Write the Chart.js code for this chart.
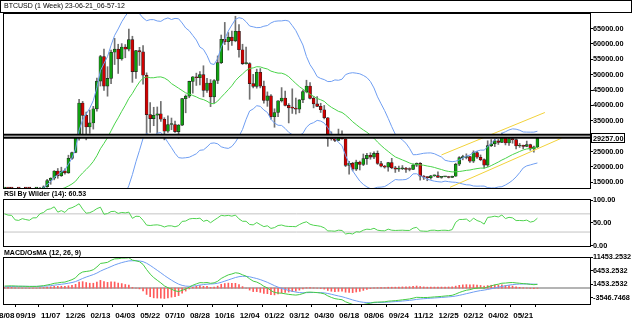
<!DOCTYPE html>
<html>
<head>
<meta charset="utf-8">
<title>BTCUSD weekly</title>
<script src="https://cdn.jsdelivr.net/npm/chart.js@4.4.0/dist/chart.umd.min.js"></script>
<style>
  html, body { margin: 0; padding: 0; background: #fff; }
  #wrap { position: relative; width: 632px; height: 336px; overflow: hidden; }
  #wrap canvas { position: absolute; left: 0; }
</style>
</head>
<body>
<div id="wrap">
  <canvas id="priceChart" width="632" height="190" style="top:0"></canvas>
  <canvas id="rsiChart" width="632" height="58" style="top:190px"></canvas>
  <canvas id="macdChart" width="632" height="88" style="top:248px"></canvas>
</div>
<script>
// weekly closes before the first drawn bar (indicator warm-up only)
const warmupCloses = [
  8100, 8300, 7950, 8650, 9250, 8800, 8480, 7280, 7750, 7550,
  7250, 7150, 7250, 7350, 8000, 8900, 8450, 9350, 9800, 10350,
  9700, 8700, 9100, 5600, 6200, 6400, 6800, 6900, 7100, 7500,
  8900, 9800, 9650, 9170, 9430, 9650, 9470, 9300, 9150, 9070,
  9280, 9170, 9550, 11350, 11600
];

// BTCUSD weekly bars, 08/08/2020 .. 06/18/2023
const opens = [
  11600, 11780, 11530, 11480, 10510, 10390, 10930, 10730, 10570, 11300,
  11320, 12930, 13560, 15570, 16300, 18680, 17150, 18650, 18060, 22800,
  24700, 29370, 40780, 36770, 33000, 34300, 38900, 47900, 55900, 46300,
  48800, 57300, 58300, 55100, 59000, 58300, 61400, 51000, 57800, 57400,
  49800, 37000, 35700, 36800, 37300, 35500, 31600, 33800, 33800, 31500,
  33600, 42200, 43000, 47800, 49300, 49000, 50000, 44900, 47300, 42800,
  48100, 53900, 61500, 60700, 62200, 61000, 64100, 58100, 53600, 53600,
  47100, 46200, 50800, 46300, 41600, 43100, 36300, 37700, 41500, 42400,
  40000, 39200, 39100, 38800, 41800, 44500, 46300, 42300, 40500, 39700,
  38600, 36000, 29300, 29200, 28600, 29700, 29100, 20500, 21200, 19300,
  21600, 20800, 22700, 23800, 23200, 24400, 21100, 20200, 19950, 21400,
  19700, 19300, 19400, 19500, 19180, 19160, 20600, 21150, 17000, 16700,
  16500, 17100, 17150, 16600, 16800, 16840, 16550, 16950, 20880, 23000,
  23050, 23350, 21850, 24650, 23150, 22350, 20600, 26900, 27500, 28450,
  27950, 30300, 27800, 29250, 28850, 26800, 26900, 26700, 27250, 25850, 26500
];
const highs = [
  12050, 12480, 11800, 12090, 10600, 11100, 11180, 10950, 11400, 11720,
  13350, 13850, 15950, 16480, 18800, 19480, 19900, 19400, 23800, 24800,
  29600, 41950, 41300, 37850, 38500, 39700, 48900, 56300, 58350, 52600,
  58000, 61800, 59900, 60100, 59800, 64850, 62500, 57900, 58900, 59500,
  50600, 40900, 39400, 39500, 41300, 36000, 36600, 35900, 34900, 33800,
  42300, 43400, 47900, 49400, 50500, 51000, 52900, 48800, 48400, 48400,
  56100, 62900, 67000, 63700, 64200, 69000, 66300, 59900, 59000, 53900,
  50100, 51800, 52000, 47900, 44400, 43500, 38900, 41600, 45800, 44700,
  40600, 45400, 42400, 41900, 45000, 48200, 47400, 42900, 42900, 40700,
  40000, 36100, 31400, 30500, 32300, 31700, 29200, 21800, 21500, 22200,
  21900, 24200, 24400, 24600, 24900, 25200, 21800, 20500, 21500, 22800,
  20200, 20300, 20450, 19900, 19700, 21000, 21300, 21400, 17200, 16800,
  17300, 17400, 18400, 16900, 16860, 16950, 16980, 21200, 23350, 23800,
  24250, 23450, 25250, 25100, 23900, 22600, 28500, 28900, 29100, 28950,
  31000, 30500, 30000, 29800, 29150, 27650, 27100, 28400, 27400, 26800, 29400
];
const lows = [
  11150, 11380, 11150, 9980, 9900, 10270, 10140, 10400, 10500, 11200,
  11300, 12900, 13300, 14350, 15800, 16300, 16900, 17600, 17900, 22400,
  24600, 28700, 30400, 28800, 30900, 32300, 38100, 46300, 44900, 43000,
  47100, 53300, 50400, 54700, 55500, 57700, 47500, 48800, 53000, 46900,
  30000, 31200, 33400, 31000, 34800, 28800, 31200, 32100, 31200, 29300,
  33400, 37600, 42500, 44000, 46500, 46700, 42800, 44200, 39600, 40800,
  47100, 53600, 59800, 58000, 59500, 60700, 55700, 53300, 53400, 42000,
  45700, 45600, 45700, 40700, 39700, 35500, 32900, 36300, 41100, 39800,
  34300, 37400, 37200, 37600, 40900, 44100, 42100, 39200, 39600, 37700,
  35600, 26700, 28700, 28200, 28500, 29000, 20100, 17600, 18700, 18800,
  19000, 20400, 20800, 22500, 22700, 20800, 20000, 19600, 18600, 19400,
  18200, 18500, 19100, 18200, 18700, 19100, 20100, 15700, 15900, 15500,
  16000, 16900, 16550, 16300, 16780, 16400, 16500, 16900, 20400, 22300,
  22600, 21450, 21400, 22800, 22000, 19600, 20100, 26600, 26600, 27300,
  27900, 27150, 26950, 27700, 25850, 26350, 25900, 26550, 25400, 24800, 26250
];
const closes = [
  11780, 11530, 11480, 10510, 10390, 10930, 10730, 10570, 11300, 11320,
  12930, 13560, 15570, 16300, 18680, 17150, 18650, 18060, 22800, 24700,
  29370, 40780, 36770, 33000, 34300, 38900, 47900, 55900, 46300, 48800,
  57300, 58300, 55100, 59000, 58300, 61400, 51000, 57800, 57400, 49800,
  37000, 35700, 36800, 37300, 35500, 31600, 33800, 33800, 31500, 33600,
  42200, 43000, 47800, 49300, 49000, 50000, 44900, 47300, 42800, 48100,
  53900, 61500, 60700, 62200, 61000, 64100, 58100, 53600, 53600, 47100,
  46200, 50800, 46300, 41600, 43100, 36300, 37700, 41500, 42400, 40000,
  39200, 39100, 38800, 41800, 44500, 46300, 42300, 40500, 39700, 38600,
  36000, 29300, 29200, 28600, 29700, 29100, 20500, 21200, 19300, 21600,
  20800, 22700, 23800, 23200, 24400, 21100, 20200, 19950, 21400, 19700,
  19300, 19400, 19500, 19180, 19160, 20600, 21150, 17000, 16700, 16500,
  17100, 17150, 16600, 16800, 16840, 16550, 16950, 20880, 23000, 23050,
  23350, 21850, 24650, 23150, 22350, 20600, 26900, 27500, 28450, 27950,
  30300, 27800, 29250, 28850, 26800, 26900, 26700, 27250, 25850, 26500, 29257
];

// time axis labels (bar index -> date)
const tickBars = [0, 6, 13, 20, 27, 34, 41, 48, 55, 62, 69, 76, 83, 90, 97, 104, 111, 118, 125, 132, 139, 146];
const tickLabels = ['08/08', '09/19', '11/07', '12/26', '02/13', '04/03', '05/22', '07/10', '08/28', '10/16', '12/04',
  '01/22', '03/12', '04/30', '06/18', '08/06', '09/24', '11/12', '12/25', '02/12', '04/02', '05/21'];

const priceTicks = [15000, 20000, 25000, 30000, 35000, 40000, 45000, 50000, 55000, 60000, 65000];
const rsiTicks = [0, 50, 100];
const rsiLevels = [70, 30];
const macdTicks = [-3546.7468, 1453.2532, 6453.2532, 11453.2532];

// drawn objects: horizontal level and the rising channel (bar index, price)
const levelPrice = 30000;
const channelUpper = [[123.0, 23900], [152.1, 37700]];
const channelLower = [[125.4, 13370], [156.8, 29350]];

const X_MIN = -0.42, X_MAX = 164.8;
const FONT = '"Liberation Sans", Arial, sans-serif';

// ---- indicators: Bollinger(20, 2), RSI Wilder(14), MACD(12, 26, 9) ----
const allCloses = warmupCloses.concat(closes);
const off = warmupCloses.length;

const bbUpper = [], bbMiddle = [], bbLower = [];
for (let i = 0; i < closes.length; i++) {
  const k = i + off;
  const win = allCloses.slice(k - 19, k + 1);
  const mean = win.reduce((a, b) => a + b, 0) / 20;
  const sd = Math.sqrt(win.reduce((a, b) => a + (b - mean) * (b - mean), 0) / 20);
  bbMiddle.push({ x: i, y: mean });
  bbUpper.push({ x: i, y: mean + 2 * sd });
  bbLower.push({ x: i, y: mean - 2 * sd });
}

function ema(src, n) {
  const a = 2 / (n + 1);
  const out = [src[0]];
  for (let i = 1; i < src.length; i++) out.push(a * src[i] + (1 - a) * out[i - 1]);
  return out;
}
const ema12 = ema(allCloses, 12);
const ema26 = ema(allCloses, 26);
const macdAll = ema12.map((v, i) => v - ema26[i]);
const signalAll = ema(macdAll, 9);

const rsiAll = new Array(allCloses.length).fill(null);
let avgGain = 0, avgLoss = 0;
for (let i = 1; i <= 14; i++) {
  const d = allCloses[i] - allCloses[i - 1];
  avgGain += Math.max(d, 0); avgLoss += Math.max(-d, 0);
}
avgGain /= 14; avgLoss /= 14;
rsiAll[14] = 100 - 100 / (1 + avgGain / avgLoss);
for (let i = 15; i < allCloses.length; i++) {
  const d = allCloses[i] - allCloses[i - 1];
  avgGain = (avgGain * 13 + Math.max(d, 0)) / 14;
  avgLoss = (avgLoss * 13 + Math.max(-d, 0)) / 14;
  rsiAll[i] = avgLoss === 0 ? 100 : 100 - 100 / (1 + avgGain / avgLoss);
}

const rsiData = closes.map((c, i) => ({ x: i, y: rsiAll[i + off] }));
const macdData = closes.map((c, i) => ({ x: i, y: macdAll[i + off] }));
const signalData = closes.map((c, i) => ({ x: i, y: signalAll[i + off] }));
const osmaData = closes.map((c, i) => ({ x: i, y: macdAll[i + off] - signalAll[i + off] }));

// ---- shared chart pieces ----
Chart.defaults.font.family = FONT;
Chart.defaults.color = '#000';
Chart.defaults.animation = false;

function hline(y, color, width, order) {
  return { type: 'line', data: [{ x: X_MIN, y: y }, { x: X_MAX, y: y }], borderColor: color,
           borderWidth: width, pointRadius: 0, order: order };
}
function series(data, color, order) {
  return { type: 'line', data: data, borderColor: color, borderWidth: 1, pointRadius: 0, order: order };
}

function xScale(show) {
  return {
    type: 'linear', min: X_MIN, max: X_MAX, offset: false, display: show,
    grid: { display: show, drawOnChartArea: false, tickLength: 3, color: '#000' },
    border: { display: false },
    afterBuildTicks: s => { s.ticks = tickBars.map(v => ({ value: v })); },
    afterFit: s => { s.paddingLeft = 0; s.paddingRight = 0; if (show) s.height = 32; },
    ticks: { autoSkip: false, maxRotation: 0, minRotation: 0, padding: 4,
             font: { size: 8, weight: 'bold' }, color: '#000',
             callback: (v, i) => tickLabels[i] }
  };
}

function yScale(min, max, ticks, digits) {
  return {
    type: 'linear', position: 'right', min: min, max: max,
    grid: { drawOnChartArea: false, tickLength: 3, color: '#000' },
    border: { display: true, color: '#000' },
    afterBuildTicks: s => { s.ticks = ticks.map(v => ({ value: v })); },
    afterFit: s => { s.width = 42; s.paddingTop = 0; s.paddingBottom = 0; },
    ticks: { padding: 0, font: { size: 7.3, weight: 'bold' }, color: '#000',
             callback: v => v.toFixed(digits) }
  };
}

// frame round the plot area plus the pane caption
const framePlugin = {
  id: 'frame',
  afterDraw(chart, args, opts) {
    const { ctx, chartArea: a } = chart;
    ctx.save();
    ctx.strokeStyle = '#000';
    ctx.lineWidth = 1;
    ctx.strokeRect(Math.round(a.left) + 0.5, Math.round(a.top) + 0.5,
                   Math.round(a.right - a.left), Math.round(a.bottom - a.top));
    if (opts.box) ctx.strokeRect(0.5, 0.5, 631, 12);
    ctx.fillStyle = '#000';
    ctx.textBaseline = 'middle';
    ctx.font = opts.font;
    ctx.fillText(opts.title, opts.tx, opts.ty);
    ctx.restore();
  }
};

// last price tag on the price axis
const priceTagPlugin = {
  id: 'priceTag',
  afterDraw(chart) {
    const { ctx, scales } = chart;
    const last = closes[closes.length - 1];
    const y = Math.round(scales.y.getPixelForValue(last));
    ctx.save();
    ctx.fillStyle = '#fff';
    ctx.fillRect(591, y - 4, 33, 9);
    ctx.strokeStyle = '#000';
    ctx.strokeRect(591.5, y - 4.5, 33, 9);
    ctx.fillStyle = '#000';
    ctx.font = 'bold 7.3px ' + FONT;
    ctx.textBaseline = 'middle';
    ctx.fillText(last.toFixed(2), 593, y + 0.5);
    ctx.restore();
  }
};

const baseOptions = {
  responsive: false,
  devicePixelRatio: 1,
  events: [],
  plugins: { legend: { display: false }, tooltip: { enabled: false } }
};

// ---- price pane ----
const wickData = closes.map((c, i) => ({ x: i, y: [lows[i], highs[i]] }));
const bodyData = closes.map((c, i) => ({ x: i, y: [opens[i], c] }));
const bodyColors = closes.map((c, i) => c >= opens[i] ? '#10a010' : '#d00000');

new Chart(document.getElementById('priceChart'), {
  type: 'bar',
  data: {
    datasets: [
      hline(levelPrice, '#a0a0a0', 1.5, 0),
      hline(levelPrice, '#000000', 5, 1),
      series(channelUpper.map(p => ({ x: p[0], y: p[1] })), '#f2d23a', 2),
      series(channelLower.map(p => ({ x: p[0], y: p[1] })), '#f2d23a', 2),
      series(bbUpper, '#6f9ef2', 3),
      series(bbLower, '#6f9ef2', 3),
      series(bbMiddle, '#49d349', 3),
      { type: 'bar', data: bodyData, backgroundColor: bodyColors, borderColor: '#202020',
        borderWidth: 0.6, borderSkipped: false, barThickness: 3, minBarLength: 1, grouped: false, order: 4 },
      { type: 'bar', data: wickData, backgroundColor: '#707070', barThickness: 1, grouped: false, order: 5 }
    ]
  },
  options: Object.assign({}, baseOptions, {
    layout: { padding: { left: 3, top: 13, right: 0, bottom: 2 } },
    scales: { x: xScale(false), y: yScale(13140, 70060, priceTicks, 2) },
    plugins: Object.assign({}, baseOptions.plugins, {
      frame: { box: true, title: 'BTCUSD (1 Week) 23-06-21_06-57-12', font: '7px ' + FONT, tx: 4, ty: 6.5 }
    })
  }),
  plugins: [framePlugin, priceTagPlugin]
});

// ---- RSI pane ----
new Chart(document.getElementById('rsiChart'), {
  type: 'line',
  data: {
    datasets: [
      series(rsiData, '#4fd34f', 0),
      hline(rsiLevels[0], '#c4c4c4', 1, 1),
      hline(rsiLevels[1], '#c4c4c4', 1, 1)
    ]
  },
  options: Object.assign({}, baseOptions, {
    layout: { padding: { left: 3, top: 9, right: 0, bottom: 2 } },
    scales: { x: xScale(false), y: yScale(-0.7, 102.7, rsiTicks, 2) },
    plugins: Object.assign({}, baseOptions.plugins, {
      frame: { title: 'RSI By Wilder (14): 60.53', font: 'bold 7px ' + FONT, tx: 4, ty: 4.5 }
    })
  }),
  plugins: [framePlugin]
});

// ---- MACD / OsMA pane ----
new Chart(document.getElementById('macdChart'), {
  type: 'bar',
  data: {
    datasets: [
      series(macdData, '#44cc44', 0),
      series(signalData, '#6f9ef2', 1),
      { type: 'bar', data: osmaData, backgroundColor: '#ff5a5a', barThickness: 1, grouped: false, order: 2 },
      hline(0, '#b4b4b4', 2, 3)
    ]
  },
  options: Object.assign({}, baseOptions, {
    layout: { padding: { left: 3, top: 9, right: 0, bottom: 0 } },
    scales: { x: xScale(true), y: yScale(-5850, 11453.2532, macdTicks, 4) },
    plugins: Object.assign({}, baseOptions.plugins, {
      frame: { title: 'MACD/OsMA (12, 26, 9)', font: 'bold 7px ' + FONT, tx: 4, ty: 5 }
    })
  }),
  plugins: [framePlugin]
});
</script>
</body>
</html>
